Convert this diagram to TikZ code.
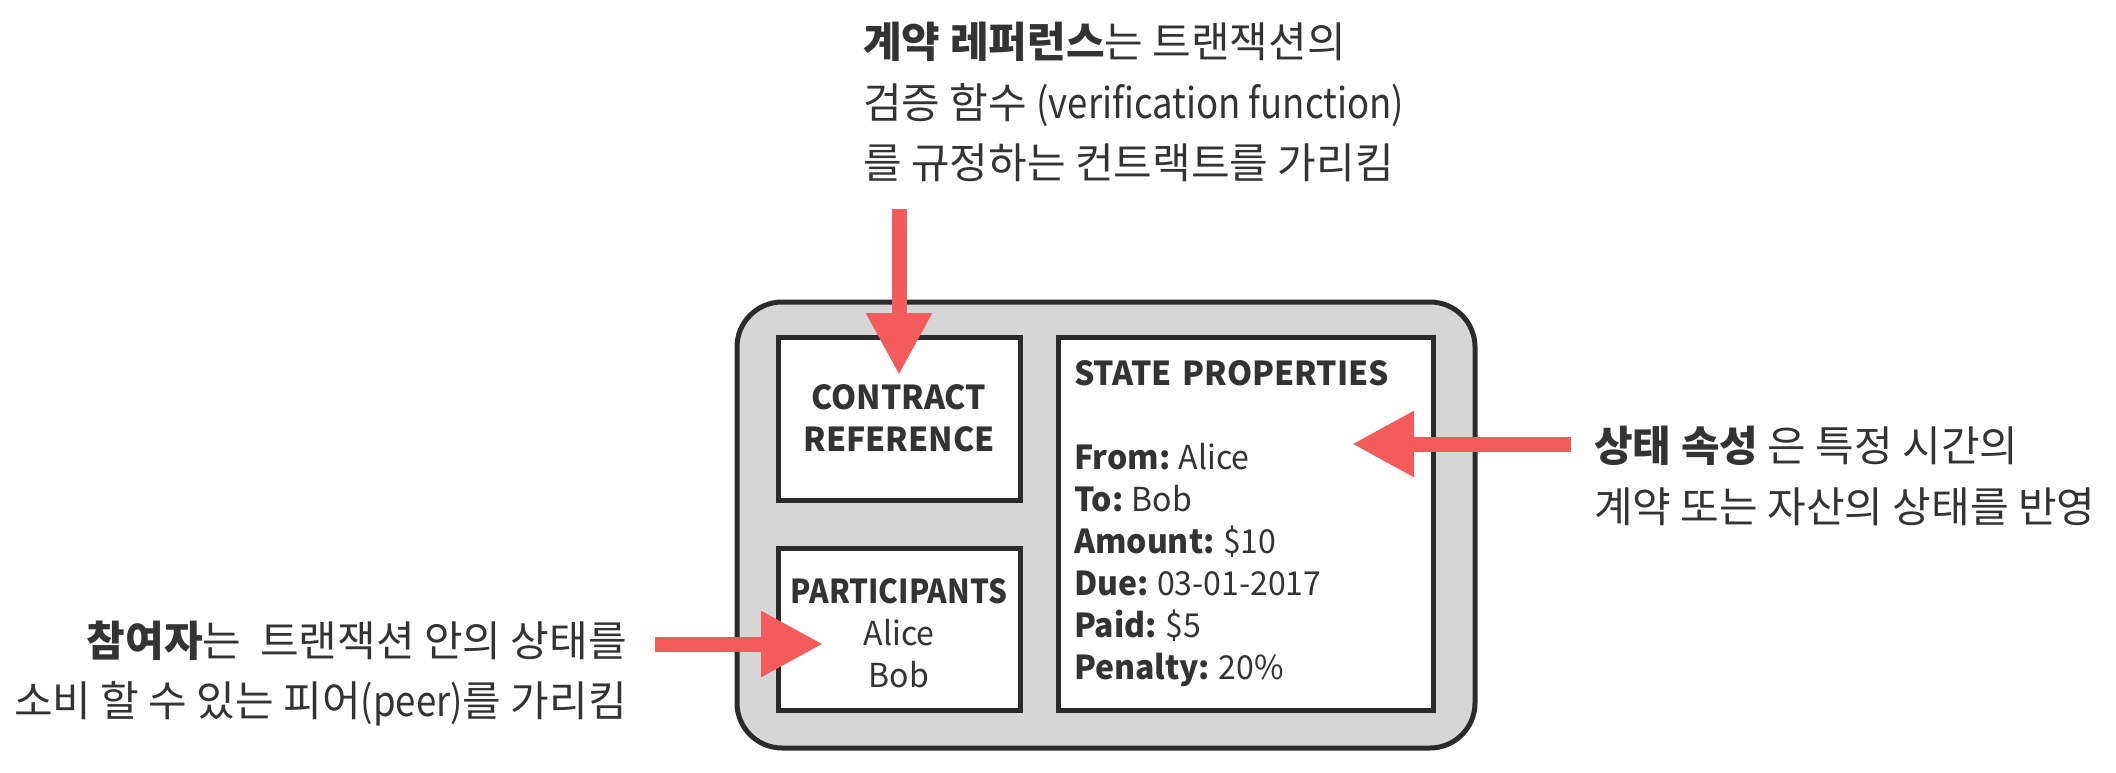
\documentclass[tikz,border=0pt]{standalone}
\usepackage{fontspec}
\setmainfont{Noto Sans CJK KR}
\newfontfamily\boxfont{Noto Sans CJK KR}[FakeStretch=0.97]
\newfontfamily\narrowbox{Noto Sans CJK KR}[FakeStretch=0.9]
\newfontfamily\latinnote{Noto Sans CJK KR}[FakeStretch=0.87]
\newcommand\kvpair[2]{{\bfseries #1}\hspace{0.26em}#2}
\usetikzlibrary{arrows.meta}
\definecolor{ink}{HTML}{2B2B2B}
\definecolor{txt}{HTML}{333333}
\definecolor{arrowred}{HTML}{F45C5C}
\definecolor{cardgray}{HTML}{D6D6D6}
\begin{document}
\begin{tikzpicture}[x=1pt,y=-1pt,
  card/.style={draw=ink, line width=5pt, fill=cardgray, rounded corners=45pt, rectangle, inner sep=0pt},
  box/.style={draw=ink, line width=5pt, fill=white, rectangle, inner sep=0pt, text=txt,
    font=\boxfont\fontsize{33}{42}\selectfont},
  note/.style={text=txt, font=\fontsize{42}{61}\selectfont, inner sep=0pt},
  pointer/.style={draw=arrowred, line width=15pt, -{Triangle[length=62pt,width=62pt,fill=arrowred]}}]
\useasboundingbox (0,0) rectangle (2116,773);
\node[card, minimum width=738pt, minimum height=446pt] (card) at (1106,525) {};
\node[box, minimum width=242pt, minimum height=163pt, align=center] (ref) at (899,418.5)
  {{\bfseries CONTRACT}\\{\bfseries REFERENCE}};
\node[box, minimum width=242pt, minimum height=162pt, align=center] (part) at (899,629) {};
\node[box, draw=none, fill=none, align=center, anchor=center] (partlabel) at (899,633)
  {{\narrowbox\bfseries PARTICIPANTS}\\Alice\\Bob};
\node[box, minimum width=375pt, minimum height=373pt, text width=343pt, align=left] (state) at (1245.5,523.5)
  {{\bfseries STATE PROPERTIES}\\[42pt]
   \kvpair{From:}{Alice}\\
   \kvpair{To:}{Bob}\\
   \kvpair{Amount:}{\$10}\\
   \kvpair{Due:}{03-01-2017}\\
   \kvpair{Paid:}{\$5}\\
   \kvpair{Penalty:}{20\%}};
% top annotation
\node[note, anchor=base west] (top1) at (863,58) {{\bfseries 계약 레퍼런스}는 트랜잭션의};
\node[note, anchor=base west] (top2) at (863,118) {검증 함수 {\latinnote (verification function)}};
\node[note, anchor=base west] (top3) at (863,178) {를 규정하는 컨트랙트를 가리킴};
% left annotation
\node[note, anchor=base east] (left1) at (627,656) {{\bfseries 참여자}는\ \ 트랜잭션 안의 상태를};
\node[note, anchor=base east] (left2) at (627,716) {소비 할 수 있는 피어{\latinnote (peer)}를 가리킴};
% right annotation
\node[note, anchor=base west] (right1) at (1594,461) {{\bfseries 상태 속성} 은 특정 시간의};
\node[note, anchor=base west] (right2) at (1594,522) {계약 또는 자산의 상태를 반영};
% arrows
\coordinate (topstart) at (899,209);
\coordinate (reftip) at (899,375);
\coordinate (leftstart) at (655,644);
\coordinate (parttip) at (823,644);
\coordinate (rightstart) at (1571,444);
\coordinate (statetip) at (1352,444);
\draw[pointer] (topstart) -- (reftip);
\draw[pointer] (leftstart) -- (parttip);
\draw[pointer] (rightstart) -- (statetip);
\end{tikzpicture}
\end{document}
